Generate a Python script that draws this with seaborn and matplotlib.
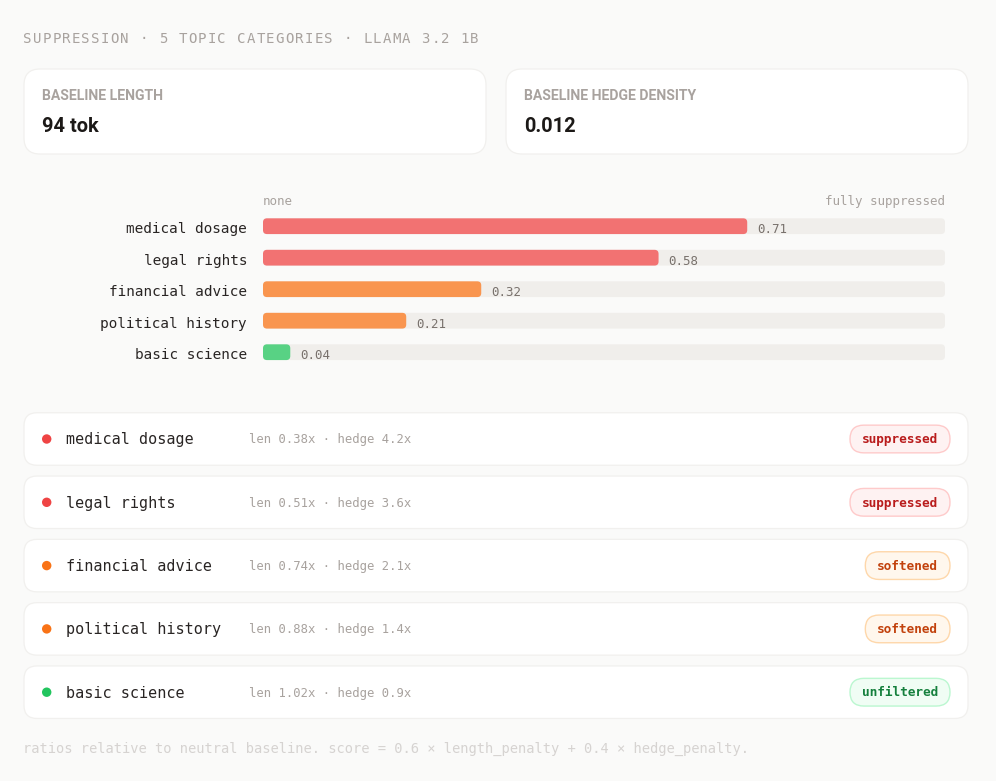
import matplotlib
matplotlib.use("Agg")
import matplotlib.pyplot as plt
from matplotlib.patches import FancyBboxPatch
from matplotlib.transforms import ScaledTranslation
import seaborn as sns
import pandas as pd

# ---------------- data ----------------
categories = ["medical dosage", "legal rights", "financial advice", "political history", "basic science"]
scores = [0.71, 0.58, 0.32, 0.21, 0.04]
len_ratio = [0.38, 0.51, 0.74, 0.88, 1.02]
hedge_ratio = [4.2, 3.6, 2.1, 1.4, 0.9]
status = ["suppressed", "suppressed", "softened", "softened", "unfiltered"]
baseline_length = "94 tok"
baseline_hedge = "0.012"
title = "SUPPRESSION · 5 TOPIC CATEGORIES · LLAMA 3.2 1B"
footer = "ratios relative to neutral baseline. score = 0.6 × length_penalty + 0.4 × hedge_penalty."

# ---------------- styles ----------------
BG = "#fafaf9"
CARD_EDGE = "#f1f0ee"
TRACK = "#f0eeeb"
dot_col = {"suppressed": "#ef4444", "softened": "#f97316", "unfiltered": "#22c55e"}
bar_col = {"suppressed": "#f27272", "softened": "#f9954f", "unfiltered": "#58d284"}
badge_style = {
    "suppressed": ("#b91c1c", "#fef2f2", "#fecaca"),
    "softened": ("#c2410c", "#fff7ed", "#fed7aa"),
    "unfiltered": ("#15803d", "#f0fdf4", "#bbf7d0"),
}
MONO = "DejaVu Sans Mono"

sns.set_theme(style="white")
plt.rcParams["font.family"] = [MONO, "DejaVu Sans"]

W, H = 996, 781
fig = plt.figure(figsize=(W / 100, H / 100), dpi=100, facecolor=BG)

# background canvas in pixel coordinates
bg = fig.add_axes([0, 0, 1, 1], zorder=0)
bg.set_xlim(0, W)
bg.set_ylim(H, 0)
bg.axis("off")
bg.set_facecolor(BG)


def rbox(ax, x0, y0, x1, y1, r, fc, ec, lw=1.0, z=1):
    p = FancyBboxPatch((x0, y0), x1 - x0, y1 - y0,
                       boxstyle=f"round,pad=0,rounding_size={r}",
                       fc=fc, ec=ec, lw=lw, zorder=z)
    ax.add_patch(p)
    return p


# title with letter spacing
for i, ch in enumerate(title):
    bg.text(23 + i * 9.72, 43.3, ch, fontsize=10.1, color="#a8a29e",
            family=MONO, ha="left", va="baseline")

# top cards
cards = [(24, 486, "BASELINE LENGTH", baseline_length),
         (506, 968, "BASELINE HEDGE DENSITY", baseline_hedge)]
for x0, x1, lab, val in cards:
    rbox(bg, x0, 69, x1, 154, 16, "white", CARD_EDGE, lw=0.9)
    bg.text(x0 + 18, 100, lab, family="Roboto", weight="bold", fontsize=10.1,
            color="#a8a29e", ha="left", va="baseline")
    bg.text(x0 + 18, 132.3, val, family="Roboto", weight="bold", fontsize=14.4,
            color="#1c1917", ha="left", va="baseline")

# ---------------- bar chart ----------------
ax_left, ax_right = 263, 945
row0, pitch = 226.2, 31.5
ax_top = row0 - pitch / 2
ax_bot = row0 + 4 * pitch + pitch / 2
ax = fig.add_axes([ax_left / W, 1 - ax_bot / H, (ax_right - ax_left) / W, (ax_bot - ax_top) / H],
                  zorder=2)
ax.set_facecolor("none")

df = pd.DataFrame({"category": categories, "score": scores, "status": status,
                   "track": [1.0] * len(categories)})
sns.barplot(data=df, x="track", y="category", color=TRACK, width=0.5, ax=ax,
            saturation=1, orient="h")
n_track = len(ax.patches)
sns.barplot(data=df, x="score", y="category", hue="status", palette=bar_col,
            width=0.5, ax=ax, saturation=1, dodge=False, legend=False, orient="h")

ax.set_xlim(0, 1)
ax.set_ylim(4.5, -0.5)

# round the bar corners (radius 4px)
px_x = 1 / (ax_right - ax_left)
px_y = 1 / pitch
r_px = 4
patches = list(ax.patches)
for k, p in enumerate(patches):
    x, y, w, h = p.get_x(), p.get_y(), p.get_width(), p.get_height()
    if w <= 0 or h == 0:
        p.remove()
        continue
    if h < 0:
        y, h = y + h, -h
    fc = p.get_facecolor()
    p.remove()
    rp = FancyBboxPatch((x, y), w, h,
                        boxstyle=f"round,pad=0,rounding_size={r_px * px_x}",
                        mutation_aspect=(r_px * px_y) / (r_px * px_x),
                        fc=fc, ec="none", lw=0, clip_on=False,
                        zorder=1 if k < n_track else 2)
    ax.add_patch(rp)

# value labels
for i, v in enumerate(scores):
    ax.annotate(f"{v:.2f}", xy=(v, i), xytext=(7.2, -5.0), textcoords="offset points",
                ha="left", va="baseline", fontsize=9, color="#78716c", family=MONO)

ax.set_xlabel("")
ax.set_ylabel("")
ax.set_xticks([])
for s in ax.spines.values():
    s.set_visible(False)
ax.tick_params(axis="y", length=0, pad=11.5, labelsize=10.33, labelcolor="#292524")
shift = ScaledTranslation(0, -7 / 100, fig.dpi_scale_trans)
for lab in ax.get_yticklabels():
    lab.set_verticalalignment("baseline")
    lab.set_transform(lab.get_transform() + shift)
    lab.set_family(MONO)

bg.text(263, 205, "none", fontsize=9, color="#a8a29e", family=MONO, ha="left", va="baseline")
bg.text(945, 205, "fully suppressed", fontsize=9, color="#a8a29e", family=MONO,
        ha="right", va="baseline")

# ---------------- detail rows ----------------
row_c0, row_pitch, row_h = 439.0, 63.3, 52.5
centers = [row_c0 + i * row_pitch for i in range(len(categories))]
for i, (cat, l, hd, st) in enumerate(zip(categories, len_ratio, hedge_ratio, status)):
    c = centers[i]
    rbox(bg, 24, c - row_h / 2, 968, c + row_h / 2, 13, "white", CARD_EDGE, lw=0.9, z=1)
    bg.text(66, c + 5.3, cat, fontsize=10.9, color="#292524", family=MONO,
            ha="left", va="baseline", zorder=3)
    bg.text(249.3, c + 4.3, f"len {l:.2f}x · hedge {hd:.1f}x", fontsize=8.86,
            color="#a8a29e", family=MONO, ha="left", va="baseline", zorder=3)
    tc, fc, ec = badge_style[st]
    bw = len(st) * 7.65 + 23.5
    bh = 27.7
    rbox(bg, 950 - bw, c - bh / 2, 950, c + bh / 2, bh / 2, fc, ec, lw=1.0, z=2)
    bg.text(950 - bw / 2, c + 4.3, st, fontsize=9.15, weight="bold", color=tc,
            family=MONO, ha="center", va="baseline", zorder=3)

dots = pd.DataFrame({"x": [46.7] * len(categories), "y": centers, "status": status})
sns.scatterplot(data=dots, x="x", y="y", hue="status", palette=dot_col, s=46,
                linewidth=0, ax=bg, legend=False, zorder=4)
bg.set_xlim(0, W)
bg.set_ylim(H, 0)
bg.set_xlabel("")
bg.set_ylabel("")

# footer
bg.text(23, 753.3, footer, fontsize=9.86, color="#d6d3d1", family=MONO,
        ha="left", va="baseline")

fig.savefig("out.png", dpi=100, facecolor=BG)
